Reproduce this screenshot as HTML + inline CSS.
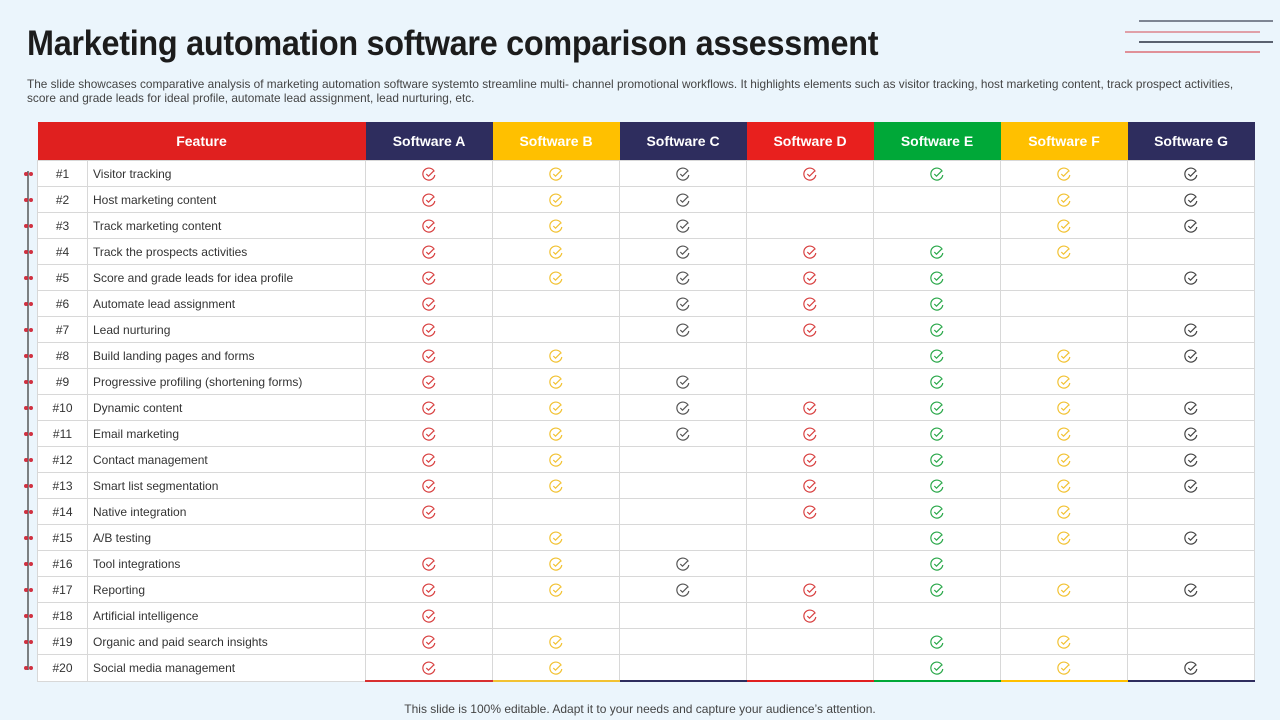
<!DOCTYPE html>
<html><head><meta charset="utf-8">
<style>
body{margin:0;width:1280px;height:720px;background:#ebf5fc;font-family:"Liberation Sans",sans-serif;position:relative;overflow:hidden}
h1{position:absolute;left:27px;top:24px;margin:0;font-size:35px;font-weight:bold;color:#1c1c1c;letter-spacing:-0.3px;transform:scaleX(0.925);transform-origin:left;white-space:nowrap}
.sub{position:absolute;left:27px;top:77px;width:1250px;font-size:12px;line-height:14px;color:#444;white-space:nowrap;transform:scaleX(0.985);transform-origin:left}
table{position:absolute;left:37px;top:122px;border-collapse:collapse;table-layout:fixed;width:1217px}
th{height:38px;color:#fff;font-size:14px;font-weight:bold;padding:0}
td{height:25px;border:1px solid #d8d8d8;background:#fff;font-size:12px;color:#333;padding:0;text-align:center}
td.f{text-align:left;padding-left:5px}
.foot{position:absolute;top:702px;left:0;width:1280px;text-align:center;font-size:12px;color:#444}
</style></head><body>
<h1>Marketing automation software comparison assessment</h1>
<div class="sub">The slide showcases comparative analysis of marketing automation software systemto streamline multi- channel promotional workflows. It highlights elements such as visitor tracking, host marketing content, track prospect activities,<br>score and grade leads for ideal profile, automate lead assignment, lead nurturing, etc.</div>
<svg style="position:absolute;left:0;top:0" width="1280" height="720">
<line x1="1139" y1="21" x2="1273" y2="21" stroke="#5a6070" stroke-width="1.5"/>
<line x1="1125" y1="32" x2="1260" y2="32" stroke="#e0a0a8" stroke-width="2"/>
<line x1="1139" y1="42" x2="1273" y2="42" stroke="#2a3040" stroke-width="1.5"/>
<line x1="1125" y1="52" x2="1260" y2="52" stroke="#e09098" stroke-width="2"/>
<line x1="28" y1="171" x2="28" y2="670" stroke="#333" stroke-width="1.2" id="vline"/>
<g id="dots"></g>
</svg>
<table id="tbl">
<colgroup><col style="width:50px"><col style="width:278px"><col span="7" style="width:127px"></colgroup>
<thead><tr id="hdr"></tr></thead><tbody id="body"></tbody></table>
<div class="foot">This slide is 100% editable. Adapt it to your needs and capture your audience’s attention.</div>
<script>
const software=["Software A","Software B","Software C","Software D","Software E","Software F","Software G"];
const headColors=["#2e2d5e","#ffc000","#2e2d5e","#e8201e","#00a838","#ffc000","#2e2d5e"];
const checkColors=["#d84040","#f2c232","#555555","#d84040","#2aa84a","#f2c232","#444444"];
const bottomColors=["#d83030","#f2c232","#2e2d5e","#e02020","#00a838","#ffc000","#2e2d5e"];
const features=["Visitor tracking","Host marketing content","Track marketing content","Track the prospects activities","Score and grade leads for idea profile","Automate lead assignment","Lead nurturing","Build landing pages and forms","Progressive profiling (shortening forms)","Dynamic content","Email marketing","Contact management","Smart list segmentation","Native integration","A/B testing","Tool integrations","Reporting","Artificial intelligence","Organic and paid search insights","Social media management"];
const support=["ABCDEFG","ABCFG","ABCFG","ABCDEF","ABCDEG","ACDE","ACDEG","ABEFG","ABCEF","ABCDEFG","ABCDEFG","ABDEFG","ABDEFG","ADEF","BEFG","ABCE","ABCDEFG","AD","ABEF","ABEFG"];
const hdr=document.getElementById('hdr');
const fh=document.createElement('th');fh.colSpan=2;fh.textContent='Feature';fh.style.background='#e0201f';


hdr.appendChild(fh);
software.forEach((s,i)=>{const th=document.createElement('th');th.textContent=s;th.style.background=headColors[i];


hdr.appendChild(th);});
const body=document.getElementById('body');
const dots=document.getElementById('dots');
features.forEach((f,r)=>{
 const tr=document.createElement('tr');
 
 
 const n=document.createElement('td');n.textContent='#'+(r+1);tr.appendChild(n);
 const fd=document.createElement('td');fd.className='f';fd.textContent=f;tr.appendChild(fd);
 software.forEach((s,i)=>{
  const td=document.createElement('td');
  if(r===features.length-1) td.style.borderBottom='2px solid '+bottomColors[i];
  if(support[r].includes('ABCDEFG'[i])){
   const c=checkColors[i];
   td.innerHTML='<svg width="14" height="14" viewBox="0 0 14 14" style="vertical-align:middle"><path d="M12.3 4.5 A6 6 0 1 0 12.8 8" fill="none" stroke="'+c+'" stroke-width="1.2"/><path d="M4.3 7 L6.5 9.2 L11.5 4.2" fill="none" stroke="'+c+'" stroke-width="1.2"/></svg>';
   
   
  }
  tr.appendChild(td);
 });
 body.appendChild(tr);
 const y=174+r*26;
 const g=document.createElementNS('http://www.w3.org/2000/svg','g');
 
 
 g.innerHTML='<circle cx="26" cy="'+y+'" r="2" fill="#d03040"/><circle cx="31" cy="'+y+'" r="2" fill="#d03040"/>';
 dots.appendChild(g);
});
</script>
</body></html>
